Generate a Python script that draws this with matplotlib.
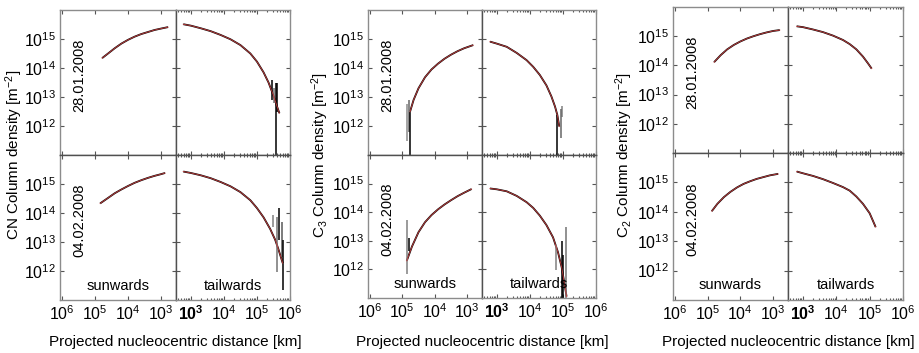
import matplotlib
matplotlib.use('Agg')
import matplotlib.pyplot as plt
from matplotlib.ticker import NullLocator, LogLocator, FixedLocator
import numpy as np

plt.rcParams['font.family'] = ['Liberation Sans', 'DejaVu Sans']
plt.rcParams['mathtext.fontset'] = 'custom'
plt.rcParams['mathtext.rm'] = 'Liberation Sans'
plt.rcParams['mathtext.it'] = 'Liberation Sans:italic'
plt.rcParams['mathtext.bf'] = 'Liberation Sans:bold'
plt.rcParams['font.size'] = 10

W, H = 920, 353

# log10 of distance [km] / log10 of column density [m^-2]
# CN
cn_jan_sun_d = [4.78, 4.6, 4.4, 4.2, 4.0, 3.8, 3.6, 3.4, 3.2, 3.0, 2.79]
cn_jan_sun_n = [14.34, 14.50, 14.68, 14.84, 14.97, 15.08, 15.17, 15.24, 15.31, 15.36, 15.41]
cn_jan_tail_d = [2.77, 3.0, 3.3, 3.6, 3.9, 4.2, 4.5, 4.8, 5.0, 5.2, 5.35, 5.5, 5.6, 5.68]
cn_jan_tail_n = [15.51, 15.46, 15.37, 15.27, 15.14, 14.99, 14.79, 14.50, 14.22, 13.85, 13.50,
                 13.05, 12.70, 12.44]
cn_jan_tail_spikes = [(5.45, 12.9, 13.6, 'k'), (5.52, 12.8, 13.3, '0.45'),
                      (5.57, 10.5, 13.5, 'k'), (5.62, 12.5, 13.5, 'k')]
cn_feb_sun_d = [4.84, 4.6, 4.4, 4.2, 4.0, 3.8, 3.6, 3.4, 3.2, 3.0, 2.88]
cn_feb_sun_n = [14.33, 14.52, 14.68, 14.81, 14.93, 15.04, 15.13, 15.21, 15.28, 15.34, 15.38]
cn_feb_tail_d = [2.77, 3.0, 3.3, 3.6, 3.9, 4.2, 4.5, 4.8, 5.0, 5.2, 5.4, 5.55, 5.65, 5.78]
cn_feb_tail_n = [15.43, 15.38, 15.30, 15.20, 15.07, 14.92, 14.72, 14.44, 14.17, 13.85, 13.45,
                 13.08, 12.75, 12.27]
cn_feb_tail_spikes = [(5.49, 13.52, 13.93, '0.5'), (5.60, 11.97, 13.86, '0.45'),
                      (5.68, 13.07, 14.17, 'k'), (5.75, 12.48, 13.69, '0.35'),
                      (5.80, 11.34, 13.07, 'k')]

# C3
c3_jan_sun_d = [4.76, 4.65, 4.5, 4.3, 4.1, 3.9, 3.7, 3.5, 3.3, 3.1, 2.82]
c3_jan_sun_n = [12.49, 12.90, 13.30, 13.68, 13.95, 14.15, 14.32, 14.46, 14.58, 14.68, 14.79]
c3_jan_sun_spikes = [(4.84, 11.5, 12.75, '0.55'), (4.79, 11.8, 12.9, '0.4'),
                     (4.76, 10.5, 12.5, 'k')]
c3_jan_tail_d = [2.79, 3.0, 3.3, 3.6, 3.9, 4.1, 4.3, 4.5, 4.65, 4.76, 4.83, 4.89]
c3_jan_tail_n = [14.91, 14.84, 14.73, 14.52, 14.27, 14.04, 13.76, 13.40, 13.02, 12.67, 12.38, 11.98]
c3_jan_tail_spikes = [(4.83, 10.5, 12.38, 'k'), (4.97, 12.3, 12.7, '0.5'),
                      (4.93, 11.6, 12.6, '0.4')]
c3_feb_sun_d = [4.86, 4.7, 4.5, 4.3, 4.1, 3.9, 3.7, 3.5, 3.3, 3.1, 2.87]
c3_feb_sun_n = [12.30, 12.80, 13.30, 13.65, 13.90, 14.10, 14.27, 14.42, 14.56, 14.68, 14.81]
c3_feb_sun_spikes = [(4.84, 11.85, 13.72, '0.5'), (4.78, 12.65, 13.1, 'k')]
c3_feb_tail_d = [2.79, 3.0, 3.3, 3.6, 3.9, 4.1, 4.3, 4.5, 4.7, 4.85, 4.96, 5.06, 5.11]
c3_feb_tail_n = [14.83, 14.80, 14.73, 14.57, 14.35, 14.15, 13.88, 13.55, 13.12, 12.60, 12.08,
                 11.40, 11.05]
c3_feb_tail_spikes = [(4.79, 11.97, 12.87, '0.5'), (4.97, 10.5, 13.0, 'k'),
                      (5.08, 10.5, 13.5, '0.45'), (5.00, 10.5, 12.5, 'k')]

# C2
c2_jan_sun_d = [4.8, 4.6, 4.4, 4.2, 4.0, 3.8, 3.6, 3.4, 3.2, 3.0, 2.8]
c2_jan_sun_n = [14.11, 14.35, 14.55, 14.70, 14.82, 14.92, 15.00, 15.07, 15.13, 15.18, 15.21]
c2_jan_tail_d = [2.81, 3.0, 3.3, 3.6, 3.9, 4.2, 4.4, 4.6, 4.8, 4.95, 5.06]
c2_jan_tail_n = [15.34, 15.31, 15.23, 15.14, 15.02, 14.87, 14.73, 14.55, 14.30, 14.07, 13.89]
c2_feb_sun_d = [4.87, 4.7, 4.5, 4.3, 4.1, 3.9, 3.7, 3.5, 3.3, 3.1, 2.85]
c2_feb_sun_n = [14.02, 14.27, 14.50, 14.68, 14.83, 14.95, 15.04, 15.12, 15.18, 15.24, 15.29]
c2_feb_tail_d = [2.81, 3.0, 3.3, 3.6, 3.9, 4.2, 4.4, 4.6, 4.8, 5.0, 5.18]
c2_feb_tail_n = [15.37, 15.31, 15.22, 15.11, 14.98, 14.84, 14.72, 14.52, 14.27, 13.95, 13.48]

dates = ['28.01.2008', '04.02.2008']
ylabels = ['CN Column density [m$^{-2}$]',
           'C$_3$ Column density [m$^{-2}$]',
           'C$_2$ Column density [m$^{-2}$]']
xlabel = 'Projected nucleocentric distance [km]'
xtick_vals = [1e3, 1e4, 1e5, 1e6]
ytick_vals = [1e12, 1e13, 1e14, 1e15]
ytick_labels = ['$10^{12}$', '$10^{13}$', '$10^{14}$', '$10^{15}$']

# pixel frames: left, mid, right, top, hmid, bottom
frames = [(60, 176, 290, 10, 155, 300),
          (368, 482, 596, 10, 155, 298),
          (673, 788, 903, 7, 153, 300)]
ylabel_x = [14, 320, 624]

groups = [
    [[(cn_jan_sun_d, cn_jan_sun_n, []), (cn_jan_tail_d, cn_jan_tail_n, cn_jan_tail_spikes)],
     [(cn_feb_sun_d, cn_feb_sun_n, []), (cn_feb_tail_d, cn_feb_tail_n, cn_feb_tail_spikes)]],
    [[(c3_jan_sun_d, c3_jan_sun_n, c3_jan_sun_spikes), (c3_jan_tail_d, c3_jan_tail_n, c3_jan_tail_spikes)],
     [(c3_feb_sun_d, c3_feb_sun_n, c3_feb_sun_spikes), (c3_feb_tail_d, c3_feb_tail_n, c3_feb_tail_spikes)]],
    [[(c2_jan_sun_d, c2_jan_sun_n, []), (c2_jan_tail_d, c2_jan_tail_n, [])],
     [(c2_feb_sun_d, c2_feb_sun_n, []), (c2_feb_tail_d, c2_feb_tail_n, [])]],
]


def rect(x0, x1, y0, y1):
    return [x0 / W, 1 - y1 / H, (x1 - x0) / W, (y1 - y0) / H]


def setup_axes(ax, col, row):
    ax.set_xscale('log')
    ax.set_yscale('log')
    ax.set_ylim(1e11, 1e16)
    if col == 0:
        ax.set_xlim(10**6.05, 10**2.55)
    else:
        ax.set_xlim(10**2.55, 10**6.0)
    ax.yaxis.set_major_locator(FixedLocator(ytick_vals))
    ax.yaxis.set_minor_locator(NullLocator())
    ax.xaxis.set_major_locator(FixedLocator(xtick_vals))
    ax.xaxis.set_minor_locator(LogLocator(base=10, subs=np.arange(2, 10)))
    ax.tick_params(which='both', direction='in', top=True, right=True,
                   color='#555555', width=0.8)
    ax.tick_params(which='major', length=3)
    ax.tick_params(which='minor', length=1.5)
    ax.tick_params(labelsize=11.5, pad=3)
    for s in ax.spines.values():
        s.set_color('#8c8c8c')
        s.set_linewidth(1.0)
    ax.spines['right' if col == 0 else 'left'].set_color('#505050')
    ax.spines['bottom' if row == 0 else 'top'].set_color('#505050')
    if col == 0:
        ax.set_yticklabels(ytick_labels)
    else:
        ax.set_yticklabels([])
    if row == 1:
        labels = ['$10^3$', '$10^4$', '$10^5$', '$10^6$']
        if col == 1:
            labels[0] = r'$\mathbf{10^3}$'
        ax.set_xticklabels(labels)
    else:
        ax.set_xticklabels([])


def draw_curve(ax, logd, logn, spikes):
    d = 10**np.array(logd)
    n = 10**np.array(logn)
    ax.plot(d, n, color='k', lw=1.3, solid_capstyle='butt', solid_joinstyle='round')
    for x, lo, hi, c in spikes:
        ax.vlines(10**x, 10**lo, 10**hi, color=c, lw=1.1)
    ax.plot(d, n, color='#d44545', lw=0.7, alpha=0.85)


def main():
    fig = plt.figure(figsize=(W / 100, H / 100), dpi=100)
    for g, (left, mid, right, top, hmid, bottom) in enumerate(frames):
        rows = [(top, hmid), (hmid, bottom)]
        cols = [(left, mid), (mid, right)]
        for r, (y0, y1) in enumerate(rows):
            for c, (x0, x1) in enumerate(cols):
                ax = fig.add_axes(rect(x0, x1, y0, y1))
                setup_axes(ax, c, r)
                logd, logn, spikes = groups[g][r][c]
                draw_curve(ax, logd, logn, spikes)
                if c == 0:
                    ax.text(0.17, 0.55, dates[r], rotation=90, transform=ax.transAxes,
                            ha='center', va='center', fontsize=10.5)
                if r == 1:
                    ax.text(0.5, 0.1, 'sunwards' if c == 0 else 'tailwards',
                            transform=ax.transAxes, ha='center', va='center', fontsize=10.5)
        fig.text(ylabel_x[g] / W, 1 - 155 / H, ylabels[g], rotation=90,
                 ha='center', va='center', fontsize=11)
        fig.text((left + right) / 2 / W, 1 - 342 / H, xlabel,
                 ha='center', va='center', fontsize=11)
    fig.savefig('out.png', dpi=100)


if __name__ == "__main__":
    main()
